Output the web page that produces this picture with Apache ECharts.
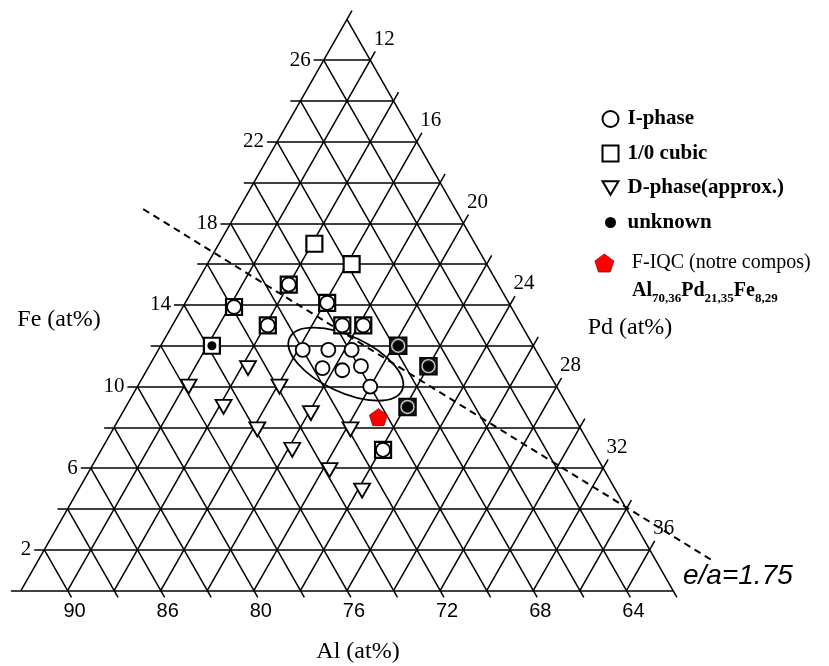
<!DOCTYPE html>
<html><head><meta charset="utf-8">
<script src="https://cdn.jsdelivr.net/npm/echarts@6/dist/echarts.min.js"></script>
<style>html,body{margin:0;padding:0;background:#fff}#c{width:829px;height:666px}</style>
</head><body><div id="c"></div>
<script>
// ---- data: compositions [Al, Pd, Fe] in at% ----
const I_PHASE = [[72.0,16.2,11.8],[70.9,17.3,11.8],[69.9,18.3,11.8],[71.6,17.5,10.9],[70.8,18.4,10.8],[69.9,19.1,11.0],[70.0,20.0,10.0]];
const CUBIC = [[68.9,14.1,17.0],[67.8,16.2,16.0]];
const CUBIC_I = [[71.0,14.0,15.0],[69.8,16.1,14.1],[73.9,12.2,13.9],[72.9,14.1,13.0],[69.7,17.3,13.0],[68.8,18.2,13.0],[71.0,22.1,6.9]];
const CUBIC_UNKNOWN = [[75.8,12.2,12.0]];
const CUBIC_I_UNKNOWN = [[67.8,20.2,12.0],[67.0,22.0,11.0],[68.9,22.1,9.0]];
const D_PHASE = [[74.8,14.3,10.9],[77.8,12.2,10.0],[73.9,16.1,10.0],[76.8,14.2,9.0],[75.9,16.2,7.9],[73.2,18.1,8.7],[74.9,18.2,6.9],[71.9,20.2,7.9],[73.8,20.3,5.9],[72.9,22.2,4.9]];
const F_IQC = [[70.4,21.1,8.5]];
const EA_LINE = [[75.4,5.9,18.7],[59.6,38.9,1.5]];
const I_REGION_CENTER = [70.5,18.4,11.1];

// tick values and labels
const FE_TICKS = [2,6,10,14,18,22,26];
const FE_TICK_LABELS = ['2','6','10','14','18','22','26'];
const PD_TICKS = [12,16,20,24,28,32,36];
const PD_TICK_LABELS = ['12','16','20','24','28','32','36'];
const AL_TICKS = [88,84,80,76,72,68,64];
const AL_TICK_LABELS = ['90','86','80','76','72','68','64'];

// diagram frame (partial ternary)
const PD_MIN = 10, AL_MIN = 62, STEP = 2;
const FE_MAX = 100 - PD_MIN - AL_MIN;

function xyPF(pd, fe){ return [pd + fe/2, fe]; }
function xy(c){ return xyPF(c[1], c[2]); }

// grid lines
const EXT_H = 0.43, EXT_S = 0.43, EXT_B = 0.34;
const gridSegs = [];
for (let fe = 0; fe < FE_MAX; fe += STEP) {
  gridSegs.push([xyPF(PD_MIN - EXT_H, fe), xyPF(100 - AL_MIN - fe, fe)]);
}
for (let pd = PD_MIN; pd < 100 - AL_MIN; pd += STEP) {
  gridSegs.push([xyPF(pd, 0), xyPF(pd, 100 - AL_MIN - pd + EXT_S)]);
}
for (let al = AL_MIN; al < 100 - PD_MIN; al += STEP) {
  gridSegs.push([xyPF(PD_MIN, 100 - al - PD_MIN), xyPF(100 - al + EXT_B, -EXT_B)]);
}

const SERIF = '"Liberation Serif", "DejaVu Serif", serif';
const SANS = '"Liberation Sans", Arial, sans-serif';

function labelSeries(name, points, texts, labelOpt){
  return { type:'scatter', name, silent:true, symbolSize:0, z:7,
    itemStyle:{color:'#000', opacity:1},
    data: points.map((p,i)=>({value:p, label:{formatter: texts[i]}})),
    label: Object.assign({show:true, color:'#000', opacity:1}, labelOpt) };
}

const TRI_DOWN = 'path://M0,0L20,0L10,17Z';
const PENTAGON = 'path://M50,0L97.55,34.55L79.39,90.45L20.61,90.45L2.45,34.55Z';

const chart = echarts.init(document.getElementById('c'));
chart.setOption({
  animation:false,
  backgroundColor:'#fff',
  grid:{left:0,right:0,top:0,bottom:0},
  xAxis:{type:'value', min:9.1, max:44.7, show:false, splitLine:{show:false}},
  yAxis:{type:'value', min:-3.7, max:28.95, show:false, splitLine:{show:false}},
  legend:[{
    orient:'vertical', left:595, top:103, itemWidth:16, itemHeight:16, itemGap:12.5,
    selectedMode:false,
    textStyle:{fontFamily:SERIF, fontWeight:'bold', fontSize:21, color:'#000', lineHeight:22, padding:[0,0,0,4]},
    data:[
      {name:'I-phase', icon:'circle', itemStyle:{color:'#fff', borderColor:'#000', borderWidth:2}},
      {name:'1/0 cubic', icon:'rect', itemStyle:{color:'#fff', borderColor:'#000', borderWidth:2}},
      {name:'D-phase(approx.)', icon:TRI_DOWN, itemStyle:{color:'#fff', borderColor:'#000', borderWidth:2}},
      {name:'unknown', icon:'circle', itemStyle:{color:'#000', borderColor:'#fff', borderWidth:5}}
    ]
  },{
    orient:'vertical', left:589.5, top:247, itemWidth:19, itemHeight:18,
    selectedMode:false,
    textStyle:{fontFamily:SERIF, fontSize:20, color:'#000', lineHeight:22, padding:[0,0,0,13]},
    data:[{name:'F-IQC (notre compos)', icon:PENTAGON, itemStyle:{color:'#ff0000', borderColor:'#900', borderWidth:0.8}}]
  }],
  graphic:[
    {type:'text', x:59, y:320, style:{text:'Fe (at%)', font:'24px '+SERIF, fill:'#000', align:'center', verticalAlign:'middle'}},
    {type:'text', x:630, y:328, style:{text:'Pd (at%)', font:'24px '+SERIF, fill:'#000', align:'center', verticalAlign:'middle'}},
    {type:'text', x:358, y:652, style:{text:'Al (at%)', font:'24px '+SERIF, fill:'#000', align:'center', verticalAlign:'middle'}},
    {type:'text', x:683, y:576, style:{text:'e/a=1.75', font:'italic 28px '+SANS, fill:'#000', align:'left', verticalAlign:'middle'}},
    {type:'text', x:632, y:291, style:{
      text:'{m|Al}{s|70,36}{m|Pd}{s|21,35}{m|Fe}{s|8,29}', align:'left', verticalAlign:'middle',
      rich:{
        m:{fontFamily:SERIF, fontWeight:'bold', fontSize:20, lineHeight:28, verticalAlign:'middle', fill:'#000'},
        s:{fontFamily:SERIF, fontWeight:'bold', fontSize:13, lineHeight:12, verticalAlign:'bottom', fill:'#000'}
      }}}
  ],
  series:[
    {type:'lines', coordinateSystem:'cartesian2d', silent:true, z:1, polyline:false,
      lineStyle:{color:'#000', width:1.5, opacity:1},
      data: gridSegs.map(s=>({coords:s}))},
    {type:'lines', coordinateSystem:'cartesian2d', silent:true, z:2, polyline:false,
      lineStyle:{color:'#000', width:2, opacity:1, type:[7,5]},
      data:[{coords: EA_LINE.map(xy)}]},
    {type:'custom', coordinateSystem:'cartesian2d', silent:true, z:3,
      data:[xy(I_REGION_CENTER)],
      renderItem:function(params, api){
        const p = api.coord([api.value(0), api.value(1)]);
        return {type:'ellipse', x:p[0], y:p[1], rotation:-25*Math.PI/180,
          shape:{cx:0, cy:0, rx:62, ry:28},
          style:{fill:'none', stroke:'#000', lineWidth:1.8}};
      }},
    {type:'scatter', name:'1/0 cubic', silent:true, z:4, symbol:'rect', symbolSize:16,
      itemStyle:{color:'#fff', borderColor:'#000', borderWidth:2.2, opacity:1},
      data: CUBIC.concat(CUBIC_I, CUBIC_UNKNOWN).map(xy)},
    {type:'scatter', name:'1/0 cubic + I-phase + unknown', silent:true, z:4, symbol:'rect', symbolSize:17,
      itemStyle:{color:'#151515', borderColor:'#000', borderWidth:1.5, opacity:1},
      data: CUBIC_I_UNKNOWN.map(xy)},
    {type:'scatter', name:'I-phase', silent:true, z:5, symbol:'circle', symbolSize:14,
      itemStyle:{color:'#fff', borderColor:'#000', borderWidth:1.8, opacity:1},
      data: I_PHASE.concat(CUBIC_I).map(xy)},
    {type:'scatter', name:'I-phase ring', silent:true, z:5, symbol:'circle', symbolSize:13,
      itemStyle:{color:'#151515', borderColor:'#c8c8c8', borderWidth:1.4, opacity:1},
      data: CUBIC_I_UNKNOWN.map(xy)},
    {type:'scatter', name:'unknown', silent:true, z:6, symbol:'circle', symbolSize:9,
      itemStyle:{color:'#000', opacity:1},
      data: CUBIC_UNKNOWN.concat(CUBIC_I_UNKNOWN).map(xy)},
    {type:'scatter', name:'D-phase(approx.)', silent:true, z:5, symbol:TRI_DOWN, symbolSize:[16,14],
      itemStyle:{color:'#fff', borderColor:'#000', borderWidth:1.8, opacity:1},
      data: D_PHASE.map(xy)},
    {type:'scatter', name:'F-IQC (notre compos)', silent:true, z:6, symbol:PENTAGON, symbolSize:[18,17],
      itemStyle:{color:'#ff0000', borderColor:'#900', borderWidth:0.8, opacity:1},
      data: F_IQC.map(xy)},
    labelSeries('Fe ticks', FE_TICKS.map(f=>xyPF(PD_MIN, f)), FE_TICK_LABELS,
      {position:'left', distance:13, fontFamily:SERIF, fontSize:21}),
    labelSeries('Pd ticks', PD_TICKS.map(p=>xyPF(p, 100 - AL_MIN - p)), PD_TICK_LABELS,
      {position:'inside', offset:[14,-21], fontFamily:SERIF, fontSize:21}),
    labelSeries('Al ticks', AL_TICKS.map(a=>xyPF(100 - a, 0)), AL_TICK_LABELS,
      {position:'inside', offset:[7,21], fontFamily:SANS, fontSize:20})
  ]
});
</script>
</body></html>
